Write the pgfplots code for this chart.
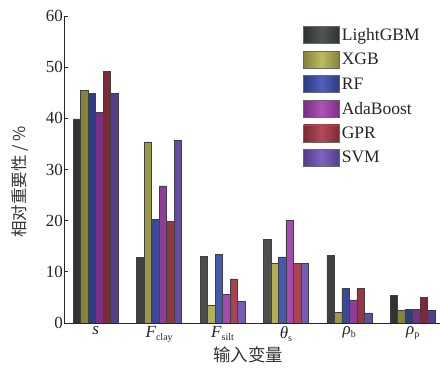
\documentclass[border=0pt]{standalone}
\usepackage{fontspec}
\setmainfont{Liberation Serif}
\newfontfamily\cjk{Noto Sans CJK SC}
\usepackage{pgfplots}
\pgfplotsset{compat=1.18}
\definecolor{cA}{RGB}{66,70,70}
\definecolor{cB}{RGB}{184,180,80}
\definecolor{cC}{RGB}{62,82,180}
\definecolor{cD}{RGB}{168,66,180}
\definecolor{cE}{RGB}{172,58,74}
\definecolor{cF}{RGB}{116,84,188}
\pgfplotsset{
  barstyle/.style={draw=black!75, line width=0.5pt, left color=#1!72!black, right color=#1!72!black, middle color=#1!92!white},
}
\newcommand{\sub}[1]{\raisebox{-3pt}{\fontsize{10}{10}\selectfont #1}}
\begin{document}
\begin{tikzpicture}
\useasboundingbox (-64pt,-49pt) rectangle (376pt,323pt);
\begin{axis}[
  at={(0pt,0pt)}, anchor=south west,
  scale only axis, width=376pt, height=307pt,
  xmin=-0.5, xmax=5.43, ymin=0, ymax=60,
  axis lines=left, axis line style={-, line width=0.9pt, black!85},
  ybar=0pt, bar width=7.5pt,
  xtick={0,1,2,3,4,5},
  xticklabels={\textit{s}, \textit{F}\sub{clay}, \textit{F}\sub{silt}, {\itshape θ}\sub{s}, {\itshape ρ}\sub{b}, {\itshape ρ}\sub{p}},
  ytick={0,10,20,30,40,50,60},
  tick align=inside, major tick length=4pt,
  x tick style={draw=none},
  y tick style={black!85, line width=0.8pt},
  tick label style={font=\fontsize{17}{20}\selectfont, black!85},
  yticklabel style={inner xsep=1pt},
  /pgf/number format/assume math mode=true,
  ylabel={\cjk 相对重要性 / \%},
  ylabel style={at={(axis description cs:-0.117,0.46)}, anchor=center, font=\fontsize{16.5}{18}\selectfont, black!80},
  xlabel={\cjk 输入变量},
  xlabel style={at={(axis description cs:0.49,-0.104)}, anchor=center, font=\fontsize{17.5}{20}\selectfont, black!80},
  legend style={at={(axis description cs:0.636,0.967)}, anchor=north west, draw=none, fill=none,
    font=\fontsize{17.5}{20}\selectfont, black!85, row sep=7pt, inner sep=0pt,
    /tikz/every even column/.append style={column sep=3pt}},
  legend cell align=left,
  legend image code/.code={\path[#1, draw=black!60] (0pt,-8.5pt) rectangle (36pt,8.5pt);},
]
\addplot[barstyle=cA] coordinates {(0,39.9) (1,12.8) (2,13.0) (3,16.4) (4,13.2) (5,5.4)};
\addplot[barstyle=cB] coordinates {(0,45.4) (1,35.4) (2,3.5) (3,11.6) (4,2.1) (5,2.5)};
\addplot[barstyle=cC] coordinates {(0,44.9) (1,20.2) (2,13.4) (3,12.9) (4,6.8) (5,2.7)};
\addplot[barstyle=cD] coordinates {(0,41.1) (1,26.8) (2,5.6) (3,20.1) (4,4.5) (5,2.6)};
\addplot[barstyle=cE] coordinates {(0,49.2) (1,19.8) (2,8.6) (3,11.6) (4,6.7) (5,5.0)};
\addplot[barstyle=cF] coordinates {(0,44.9) (1,35.7) (2,4.2) (3,11.6) (4,2.0) (5,2.4)};
\legend{LightGBM, XGB, RF, AdaBoost, GPR, SVM}
\end{axis}
\end{tikzpicture}
\end{document}
